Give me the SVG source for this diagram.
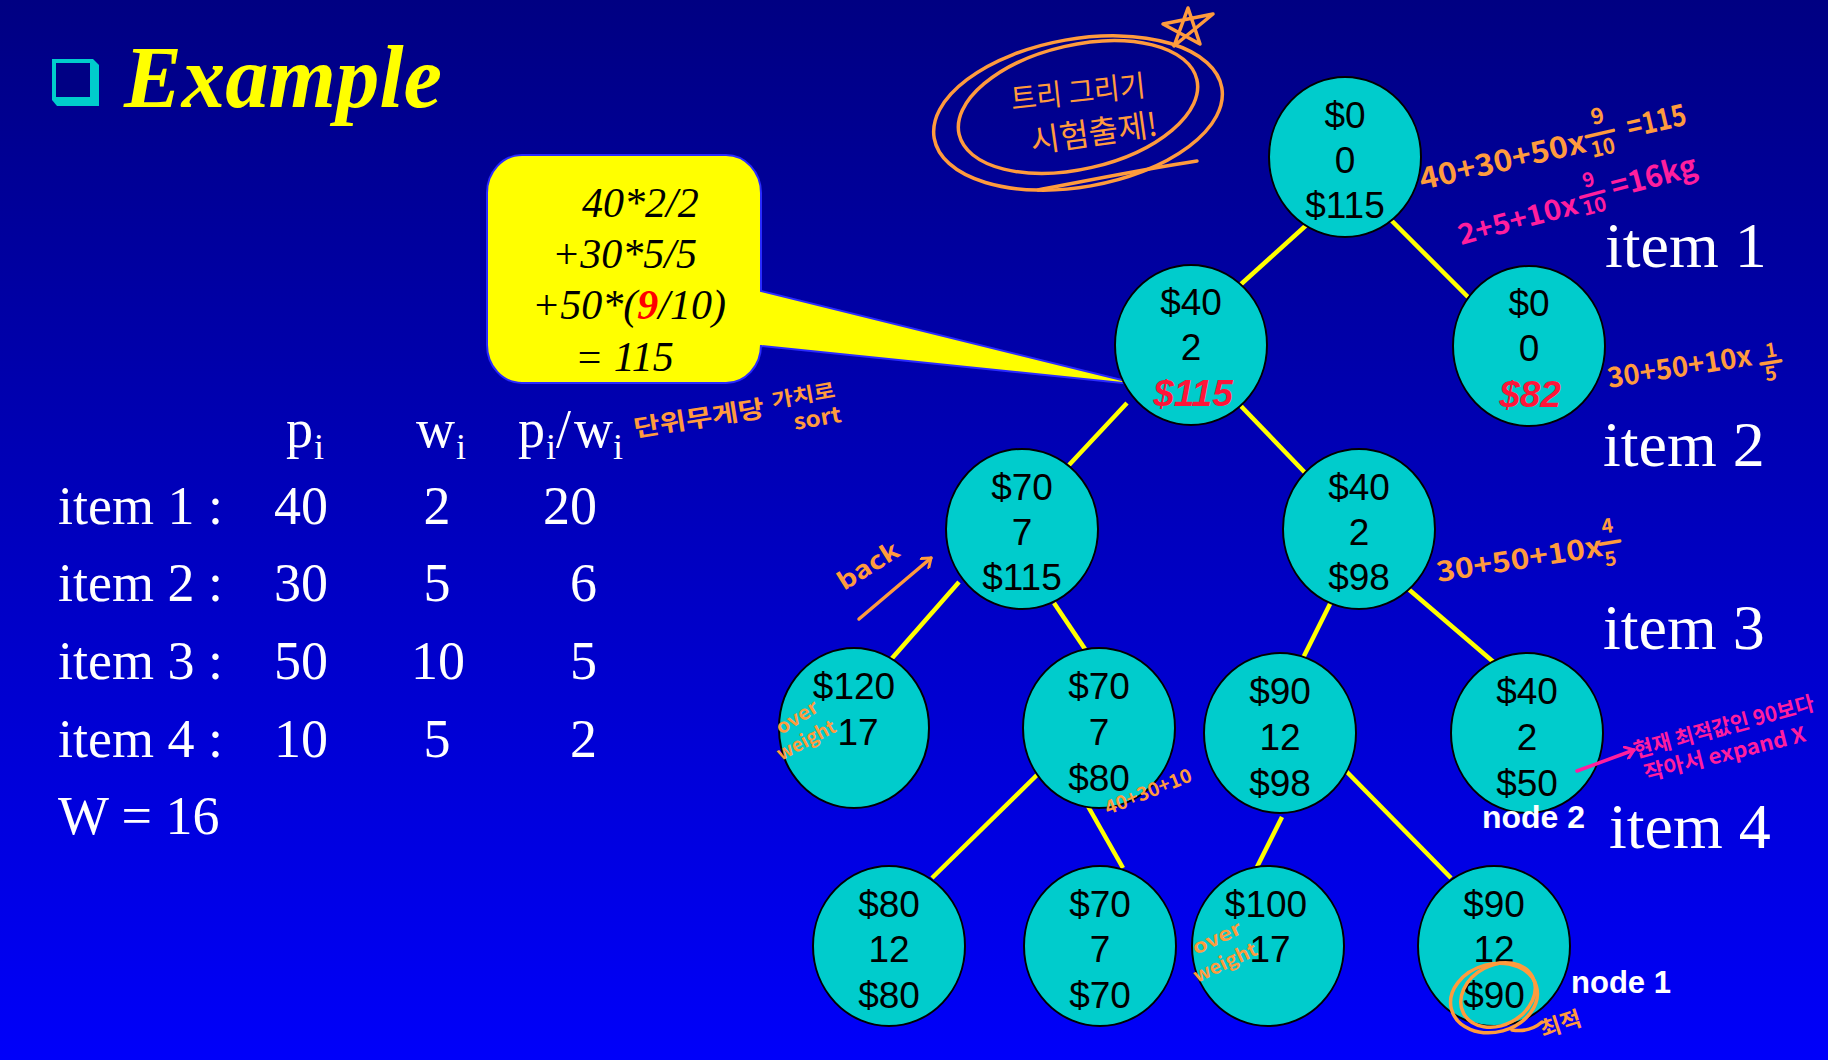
<svg xmlns="http://www.w3.org/2000/svg" width="1828" height="1060" viewBox="0 0 1828 1060">
<defs>
<linearGradient id="bg" x1="0" y1="0" x2="0" y2="1">
<stop offset="0" stop-color="#000082"/>
<stop offset="1" stop-color="#0000FA"/>
</linearGradient>
<marker id="arrO" markerWidth="14" markerHeight="14" refX="10" refY="7" orient="auto" markerUnits="userSpaceOnUse">
<path d="M2,1 L10,7 L2,13" fill="none" stroke="#FF9B3D" stroke-width="3" stroke-linecap="round" stroke-linejoin="round"/>
</marker>
<marker id="arrP" markerWidth="14" markerHeight="14" refX="10" refY="7" orient="auto" markerUnits="userSpaceOnUse">
<path d="M2,1 L10,7 L2,13" fill="none" stroke="#FF1E9E" stroke-width="3" stroke-linecap="round" stroke-linejoin="round"/>
</marker>
<style>
.node ellipse{fill:#00CCCC;stroke:#000;stroke-width:2}
.nt{font-family:"Liberation Sans",Arial,sans-serif;font-size:37px;fill:#000;text-anchor:middle}
.red{fill:#FF1439;font-weight:bold;font-style:italic}
.conn line{stroke:#FFFF00;stroke-width:4.5;stroke-linecap:butt}
.tbl{font-family:"Liberation Serif","Times New Roman",serif;font-size:54px;fill:#fff}
.lvl{font-family:"Liberation Serif","Times New Roman",serif;font-size:64px;fill:#fff}
.call{font-family:"Liberation Serif","Times New Roman",serif;font-size:42px;font-style:italic;fill:#000}
.nl{font-family:"Liberation Sans",Arial,sans-serif;font-size:31px;font-weight:bold;fill:#fff}
.ho{fill:#FF9B3D;font-family:"Noto Sans CJK KR","Noto Sans",sans-serif;font-weight:bold}
.hp{fill:#FF1E9E;font-family:"Noto Sans CJK KR","Noto Sans",sans-serif;font-weight:bold}
.thin{font-weight:normal}
.lo{fill:none;stroke:#FF9B3D;stroke-width:3.5;stroke-linecap:round;stroke-linejoin:round}
.lp{fill:none;stroke:#FF1E9E;stroke-width:3.5;stroke-linecap:round}
</style>
</defs>
<rect x="0" y="0" width="1828" height="1060" fill="url(#bg)"/>

<!-- title -->
<g id="title">
<polygon points="52,59 93,59 99,65 99,106 57,106 52,100" fill="#00CCCC"/>
<rect x="56" y="63" width="34" height="34" fill="#000084"/>
<text x="124" y="107" font-family="Liberation Serif,'Times New Roman',serif" font-size="88" font-weight="bold" font-style="italic" fill="#FFFF00" textLength="318" lengthAdjust="spacingAndGlyphs">Example</text>
</g>

<!-- callout -->
<g id="callout">
<path d="M522,155 H726 A35,38 0 0 1 761,193 V291 L1142,385 L761,346 V345 A35,38 0 0 1 726,383 H522 A35,38 0 0 1 487,345 V193 A35,38 0 0 1 522,155 Z" fill="#FFFF00" stroke="#2A2AFF" stroke-width="2"/>
<text class="call" x="582" y="217">40*2/2</text>
<text class="call" x="552" y="268">+30*5/5</text>
<text class="call" x="532" y="319">+50*(<tspan fill="#FF0000" font-weight="bold">9</tspan>/10)</text>
<text class="call" x="575" y="371">= 115</text>
</g>

<!-- table -->
<g id="table" class="tbl">
<text x="286" y="447">p<tspan x="314" dy="12" font-size="36">i</tspan></text>
<text x="416" y="447">w<tspan x="456" dy="12" font-size="36">i</tspan></text>
<text x="518" y="447">p<tspan x="546" dy="12" font-size="36">i</tspan><tspan x="556" dy="-12">/</tspan><tspan x="574">w</tspan><tspan x="613" dy="12" font-size="36">i</tspan></text>
<text x="58" y="524">item 1 :</text>
<text x="58" y="601">item 2 :</text>
<text x="58" y="679">item 3 :</text>
<text x="58" y="757">item 4 :</text>
<text x="58" y="834">W = 16</text>
<g text-anchor="end">
<text x="328" y="524">40</text><text x="328" y="601">30</text><text x="328" y="679">50</text><text x="328" y="757">10</text>
<text x="597" y="524">20</text><text x="597" y="601">6</text><text x="597" y="679">5</text><text x="597" y="757">2</text>
</g>
<g text-anchor="middle">
<text x="437" y="524">2</text><text x="437" y="601">5</text><text x="438" y="679">10</text><text x="437" y="757">5</text>
</g>
</g>

<!-- level labels -->
<g id="levels" class="lvl">
<text x="1605" y="267">item 1</text>
<text x="1603" y="466">item 2</text>
<text x="1603" y="649">item 3</text>
<text x="1609" y="848">item 4</text>
</g>

<!-- connectors -->
<g id="connectors" class="conn">
<line x1="1312" y1="220" x2="1239" y2="286"/>
<line x1="1391" y1="220" x2="1468" y2="297"/>
<line x1="1127" y1="403" x2="1069" y2="465"/>
<line x1="1238" y1="403" x2="1313" y2="481"/>
<line x1="959" y1="582" x2="887" y2="664"/>
<line x1="1054" y1="603" x2="1085" y2="649"/>
<line x1="1331" y1="602" x2="1300" y2="664"/>
<line x1="1406" y1="587" x2="1497" y2="665"/>
<line x1="1041" y1="771" x2="932" y2="878"/>
<line x1="1085" y1="801" x2="1123" y2="868"/>
<line x1="1282" y1="817" x2="1257" y2="867"/>
<line x1="1346" y1="771" x2="1451" y2="878"/>
</g>

<!-- nodes -->
<g id="n-root" class="node"><ellipse cx="1345" cy="157" rx="76" ry="80"/>
<text class="nt" x="1345" y="128">$0</text><text class="nt" x="1345" y="173">0</text><text class="nt" x="1345" y="218">$115</text></g>
<g id="n-1a" class="node"><ellipse cx="1191" cy="345" rx="76" ry="80"/>
<text class="nt" x="1191" y="315">$40</text><text class="nt" x="1191" y="360">2</text><text class="nt red" x="1193" y="406">$115</text></g>
<g id="n-1b" class="node"><ellipse cx="1529" cy="346" rx="76" ry="80"/>
<text class="nt" x="1529" y="316">$0</text><text class="nt" x="1529" y="361">0</text><text class="nt red" x="1530" y="407">$82</text></g>
<g id="n-2a" class="node"><ellipse cx="1022" cy="529" rx="76" ry="80"/>
<text class="nt" x="1022" y="500">$70</text><text class="nt" x="1022" y="545">7</text><text class="nt" x="1022" y="590">$115</text></g>
<g id="n-2b" class="node"><ellipse cx="1359" cy="529" rx="76" ry="80"/>
<text class="nt" x="1359" y="500">$40</text><text class="nt" x="1359" y="545">2</text><text class="nt" x="1359" y="590">$98</text></g>
<g id="n-3a" class="node"><ellipse cx="854" cy="728" rx="75" ry="80"/>
<text class="nt" x="854" y="699">$120</text><text class="nt" x="858" y="745">17</text></g>
<g id="n-3b" class="node"><ellipse cx="1099" cy="728" rx="76" ry="80"/>
<text class="nt" x="1099" y="699">$70</text><text class="nt" x="1099" y="745">7</text><text class="nt" x="1099" y="791">$80</text></g>
<g id="n-3c" class="node"><ellipse cx="1280" cy="733" rx="76" ry="80"/>
<text class="nt" x="1280" y="704">$90</text><text class="nt" x="1280" y="750">12</text><text class="nt" x="1280" y="796">$98</text></g>
<g id="n-3d" class="node"><ellipse cx="1527" cy="733" rx="76" ry="80"/>
<text class="nt" x="1527" y="704">$40</text><text class="nt" x="1527" y="750">2</text><text class="nt" x="1527" y="796">$50</text></g>
<g id="n-4a" class="node"><ellipse cx="889" cy="946" rx="76" ry="80"/>
<text class="nt" x="889" y="917">$80</text><text class="nt" x="889" y="962">12</text><text class="nt" x="889" y="1008">$80</text></g>
<g id="n-4b" class="node"><ellipse cx="1100" cy="946" rx="76" ry="80"/>
<text class="nt" x="1100" y="917">$70</text><text class="nt" x="1100" y="962">7</text><text class="nt" x="1100" y="1008">$70</text></g>
<g id="n-4c" class="node"><ellipse cx="1268" cy="946" rx="76" ry="80"/>
<text class="nt" x="1266" y="917">$100</text><text class="nt" x="1270" y="962">17</text></g>
<g id="n-4d" class="node"><ellipse cx="1494" cy="946" rx="76" ry="80"/>
<text class="nt" x="1494" y="917">$90</text><text class="nt" x="1494" y="962">12</text><text class="nt" x="1494" y="1008">$90</text></g>

<text class="nl" x="1482" y="828" textLength="103" lengthAdjust="spacingAndGlyphs">node 2</text>
<text class="nl" x="1571" y="993" textLength="100" lengthAdjust="spacingAndGlyphs">node 1</text>

<!-- handwritten annotations -->
<g id="note-exam">
<ellipse class="lo" cx="1078" cy="113" rx="146" ry="74" transform="rotate(-10 1078 113)"/>
<ellipse class="lo" cx="1078" cy="107" rx="122" ry="62" transform="rotate(-13 1078 107)"/>
<path class="lo" d="M1038,190 C1090,180 1150,168 1197,161"/>
<polyline class="lo" points="1163,24 1213,14 1174,46 1188,8 1200,44 1163,24"/>
<text class="ho thin" font-size="30" transform="translate(1012,110) rotate(-6)" textLength="135" lengthAdjust="spacingAndGlyphs">트리 그리기</text>
<text class="ho thin" font-size="32" transform="translate(1032,153) rotate(-8)" textLength="128" lengthAdjust="spacingAndGlyphs">시험출제!</text>
</g>

<g id="note-root1" transform="translate(1422,190) rotate(-13)">
<text class="ho" font-size="30" x="0" y="0" textLength="170" lengthAdjust="spacingAndGlyphs">40+30+50x</text>
<text class="ho" font-size="22" x="181" y="-25">9</text>
<line class="lo" x1="172" y1="-15" x2="200" y2="-15" stroke-width="2.5"/>
<text class="ho" font-size="22" x="174" y="7" textLength="24" lengthAdjust="spacingAndGlyphs">10</text>
<text class="ho" font-size="30" x="214" y="-4" textLength="60" lengthAdjust="spacingAndGlyphs">=115</text>
</g>

<g id="note-root2" transform="translate(1461,245) rotate(-15)">
<text class="hp" font-size="28" x="0" y="0" textLength="123" lengthAdjust="spacingAndGlyphs">2+5+10x</text>
<text class="hp" font-size="20" x="134" y="-23">9</text>
<line class="lp" x1="128" y1="-15" x2="152" y2="-15" stroke-width="2.5"/>
<text class="hp" font-size="20" x="127" y="4" textLength="24" lengthAdjust="spacingAndGlyphs">10</text>
<text class="hp" font-size="30" x="160" y="-6" textLength="88" lengthAdjust="spacingAndGlyphs">=16kg</text>
</g>

<g id="note-right1" transform="translate(1609,388) rotate(-9)">
<text class="ho" font-size="28" x="0" y="0" textLength="146" lengthAdjust="spacingAndGlyphs">30+50+10x</text>
<text class="ho" font-size="20" x="160" y="-5">1</text>
<line class="lo" x1="154" y1="0" x2="174" y2="0" stroke-width="2.5"/>
<text class="ho" font-size="20" x="156" y="18">5</text>
</g>

<g id="note-sort">
<text class="ho" font-size="24" transform="translate(635,437) rotate(-9)" textLength="132" lengthAdjust="spacingAndGlyphs">단위무게당</text>
<text class="ho" font-size="20" transform="translate(773,408) rotate(-10)" textLength="64" lengthAdjust="spacingAndGlyphs">가치로</text>
<text class="ho" font-size="22" transform="translate(795,430) rotate(-10)" textLength="48" lengthAdjust="spacingAndGlyphs">sort</text>
</g>

<g id="note-back">
<text class="ho" font-size="24" transform="translate(844,591) rotate(-32)" textLength="68" lengthAdjust="spacingAndGlyphs">back</text>
<line class="lo" x1="859" y1="619" x2="931" y2="558" stroke-width="3" marker-end="url(#arrO)"/>
</g>

<g id="note-over1">
<text class="ho" font-size="19" transform="translate(781,735) rotate(-32)" textLength="46" lengthAdjust="spacingAndGlyphs">over</text>
<text class="ho" font-size="19" transform="translate(781,761) rotate(-28)" textLength="64" lengthAdjust="spacingAndGlyphs">weight</text>
</g>

<g id="note-right2" transform="translate(1438,582) rotate(-9)">
<text class="ho" font-size="28" x="0" y="0" textLength="168" lengthAdjust="spacingAndGlyphs">30+50+10x</text>
<text class="ho" font-size="20" x="170" y="-22">4</text>
<line class="lo" x1="166" y1="-12" x2="186" y2="-12" stroke-width="2.5"/>
<text class="ho" font-size="20" x="168" y="11">5</text>
</g>

<text class="ho" font-size="19" transform="translate(1108,815) rotate(-22)" textLength="92" lengthAdjust="spacingAndGlyphs">40+30+10</text>

<g id="note-expand">
<line class="lp" x1="1577" y1="771" x2="1634" y2="750" stroke-width="3.5" marker-end="url(#arrP)"/>
<text class="hp" font-size="21" transform="translate(1636,758) rotate(-15)" textLength="186" lengthAdjust="spacingAndGlyphs">현재 최적값인 90보다</text>
<text class="hp" font-size="21" transform="translate(1646,781) rotate(-14)" textLength="166" lengthAdjust="spacingAndGlyphs">작아서 expand X</text>
</g>

<g id="note-over2">
<text class="ho" font-size="19" transform="translate(1196,955) rotate(-25)" textLength="52" lengthAdjust="spacingAndGlyphs">over</text>
<text class="ho" font-size="19" transform="translate(1197,983) rotate(-25)" textLength="68" lengthAdjust="spacingAndGlyphs">weight</text>
</g>

<g id="note-best">
<ellipse class="lo" cx="1494" cy="998" rx="44" ry="34" transform="rotate(-15 1494 998)"/>
<ellipse class="lo" cx="1498" cy="995" rx="39" ry="30" transform="rotate(-28 1498 995)"/>
<path class="lo" d="M1512,1030 C1525,1032 1535,1028 1542,1022"/>
<text class="ho" font-size="22" transform="translate(1543,1038) rotate(-18)" textLength="42" lengthAdjust="spacingAndGlyphs">최적</text>
</g>
</svg>
